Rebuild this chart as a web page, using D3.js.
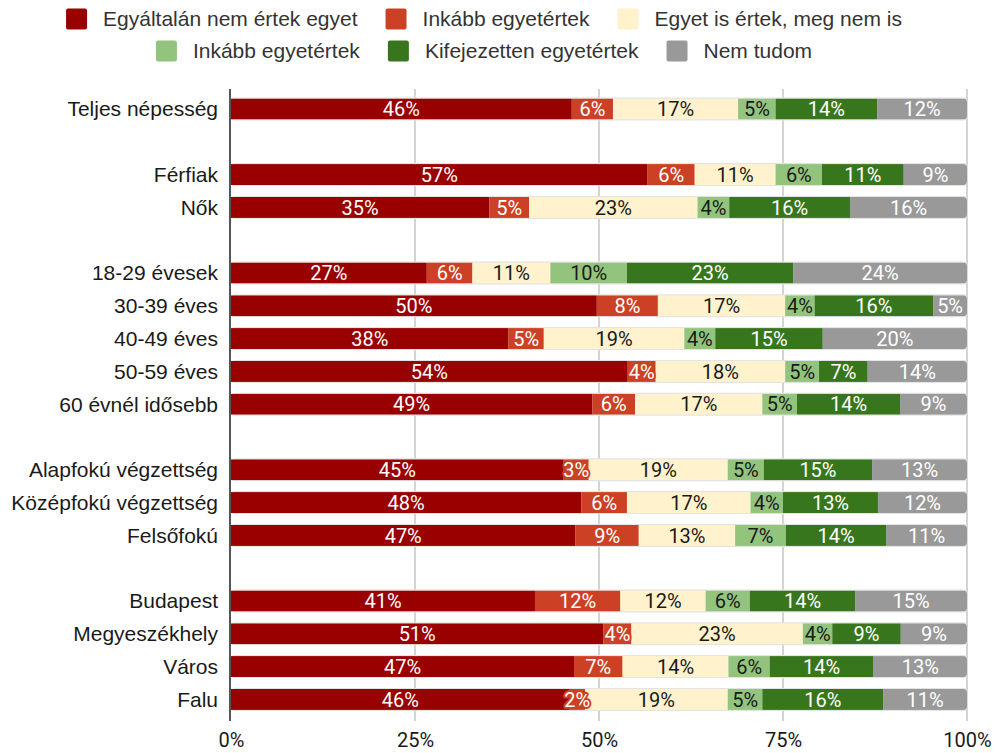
<!DOCTYPE html>
<html>
<head>
<meta charset="utf-8">
<script src="https://cdn.jsdelivr.net/npm/d3@7"></script>
<style>
  html, body { margin: 0; padding: 0; background: #fff; }
  svg { display: block; }
</style>
</head>
<body>
<svg id="chart" width="996" height="753"></svg>
<script>
// ---- data ----
const seriesNames = ["Egyáltalán nem értek egyet", "Inkább egyetértek", "Egyet is értek, meg nem is",
                     "Inkább egyetértek", "Kifejezetten egyetértek", "Nem tudom"];
const seriesColors = ["#990000", "#cc4125", "#fff2cc", "#93c47d", "#38761d", "#999999"];
const labelColors  = ["#ffffff", "#ffffff", "#1a1a1a", "#1a1a1a", "#ffffff", "#ffffff"];

// "" marks an empty spacer row
const categories = ["Teljes népesség", "", "Férfiak", "Nők", "",
  "18-29 évesek", "30-39 éves", "40-49 éves", "50-59 éves", "60 évnél idősebb", "",
  "Alapfokú végzettség", "Középfokú végzettség", "Felsőfokú", "",
  "Budapest", "Megyeszékhely", "Város", "Falu"];

const s1 = [46.3, null, 56.6, 35.1, null, 26.6, 49.7, 37.7, 53.9, 49.1, null, 45.2, 47.6, 46.8, null, 41.3, 50.6, 46.6, 46.0];
const s2 = [5.6,  null, 6.4,  5.4,  null, 6.2,  8.3,  4.8,  3.8,  5.8,  null, 3.4,  6.2,  8.6,  null, 11.6, 3.8,  6.6,  2.1];
const s3 = [17.0, null, 11.0, 22.9, null, 10.6, 17.3, 19.1, 17.6, 17.3, null, 18.9, 16.8, 13.1, null, 11.6, 23.3, 14.4, 19.4];
const s4 = [5.1,  null, 6.3,  4.3,  null, 10.4, 4.0,  4.2,  4.6,  4.7,  null, 4.9,  4.4,  6.9,  null, 6.0,  4.0,  5.6,  4.7];
const s5 = [13.8, null, 11.1, 16.4, null, 22.6, 16.1, 14.6, 6.6,  14.0, null, 14.7, 12.9, 13.6, null, 14.3, 9.3,  14.1, 16.4];
const s6 = [12.2, null, 8.6,  15.9, null, 23.6, 4.6,  19.6, 13.5, 9.1,  null, 12.9, 12.1, 11.0, null, 15.2, 9.0,  12.7, 11.4];
const seriesValues = [s1, s2, s3, s4, s5, s6];

const xTicks = [0, 0.25, 0.5, 0.75, 1];
const xTickLabels = ["0%", "25%", "50%", "75%", "100%"];

// ---- layout ----
const svg = d3.select("#chart");
const X0 = 231, X1 = 967;
const x = d3.scaleLinear().domain([0, 1]).range([X0, X1]);
const slots = categories.map((c, i) => i);
const y = d3.scaleBand().domain(slots).range([92.6, 715.8]).paddingInner(0.36).paddingOuter(0.18);
const bh = y.bandwidth();

// gridlines
svg.append("g").selectAll("line").data(xTicks.slice(1)).join("line")
  .attr("x1", d => x(d)).attr("x2", d => x(d))
  .attr("y1", 89).attr("y2", 721)
  .attr("stroke", "#d4d4d4").attr("stroke-width", 2);

// rows
const rows = categories.map((c, i) => {
  if (!c) return null;
  const vals = seriesValues.map(s => s[i]);
  const total = d3.sum(vals);
  let acc = 0;
  const segs = vals.map((v, k) => {
    const seg = { k, v, x0: acc / total, x1: (acc + v) / total, label: Math.round(v) + "%" };
    acc += v;
    return seg;
  });
  return { i, c, segs };
}).filter(Boolean);

const defs = svg.append("defs");
rows.forEach(r => {
  defs.append("clipPath").attr("id", "clip" + r.i)
    .append("rect")
    .attr("x", x(0) - 10).attr("width", x(1) - x(0) + 10)
    .attr("y", y(r.i)).attr("height", bh).attr("rx", 4);
});

const gBars = svg.append("g");
rows.forEach(r => {
  gBars.append("rect")
    .attr("x", x(0)).attr("width", x(1) - x(0) + 0.5)
    .attr("y", y(r.i) - 1).attr("height", bh + 2).attr("rx", 4)
    .attr("fill", "#e3e3e3");
  const g = gBars.append("g").attr("clip-path", "url(#clip" + r.i + ")");
  g.selectAll("rect").data(r.segs).join("rect")
    .attr("x", d => x(d.x0)).attr("width", d => x(d.x1) - x(d.x0))
    .attr("y", y(r.i)).attr("height", bh)
    .attr("fill", d => seriesColors[d.k]);
});

// value labels
const gLab = svg.append("g");
rows.forEach(r => {
  gLab.selectAll(null).data(r.segs).join("text")
    .attr("x", d => (x(d.x0) + x(d.x1)) / 2)
    .attr("y", y(r.i) + bh / 2)
    .attr("dy", "0.36em")
    .attr("text-anchor", "middle")
    .attr("font-family", "Roboto, sans-serif")
    .attr("font-size", 20)
    .attr("fill", d => labelColors[d.k])
    .attr("stroke", d => seriesColors[d.k])
    .attr("stroke-width", 4)
    .attr("stroke-linejoin", "round")
    .attr("paint-order", "stroke")
    .text(d => d.label);
});

// category labels
svg.append("g").selectAll("text").data(rows).join("text")
  .attr("x", 218).attr("y", d => y(d.i) + bh / 2).attr("dy", "0.35em")
  .attr("text-anchor", "end")
  .attr("font-family", "'Liberation Sans', Arial, sans-serif")
  .attr("font-size", 21).attr("fill", "#1a1a1a")
  .text(d => d.c);

// left axis line
svg.append("line").attr("x1", X0 - 1).attr("x2", X0 - 1).attr("y1", 89).attr("y2", 721)
  .attr("stroke", "#555").attr("stroke-width", 2);

// x axis tick labels
const xAxis = d3.axisBottom(x).tickValues(xTicks).tickFormat((d, i) => xTickLabels[i]).tickSize(0).tickPadding(0);
const gx = svg.append("g").attr("transform", "translate(0,733)").call(xAxis);
gx.select(".domain").remove();
gx.selectAll("text").attr("font-family", "Roboto, sans-serif").attr("font-size", 20).attr("fill", "#1a1a1a");

// legend
const legendRows = [[0, 1, 2], [3, 4, 5]];
const legendY = [19, 51];
const gLeg = svg.append("g");
legendRows.forEach((items, ri) => {
  const gr = gLeg.append("g");
  let cx = 0;
  items.forEach(k => {
    const it = gr.append("g").attr("transform", `translate(${cx},0)`);
    it.append("rect").attr("x", 0).attr("y", legendY[ri] - 10.5).attr("width", 21).attr("height", 21)
      .attr("rx", 2).attr("fill", seriesColors[k]);
    const t = it.append("text").attr("x", 37).attr("y", legendY[ri]).attr("dy", "0.35em")
      .attr("font-family", "'Liberation Sans', Arial, sans-serif")
      .attr("font-size", 21).attr("fill", "#333").text(seriesNames[k]);
    cx += 37 + t.node().getComputedTextLength() + 28;
  });
  const w = cx - 28;
  gr.attr("transform", `translate(${484 - w / 2},0)`);
});
</script>
</body>
</html>
